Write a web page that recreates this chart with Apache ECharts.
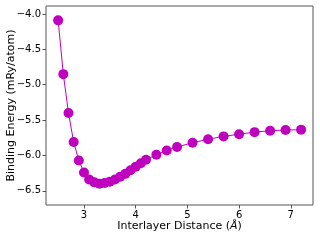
<!DOCTYPE html>
<html><head><meta charset="utf-8">
<script src="https://cdn.jsdelivr.net/npm/echarts@6/dist/echarts.min.js"></script>
<style>html,body{margin:0;padding:0;background:#fff}#c{width:320px;height:240px}</style>
</head><body><div id="c"></div>
<script>
const distances = [2.5,2.6,2.7,2.8,2.9,3.0,3.1,3.2,3.3,3.4,3.5,3.6,3.7,3.8,3.9,4.0,4.1,4.2,4.4,4.6,4.8,5.1,5.4,5.7,6.0,6.3,6.6,6.9,7.2];
const energies = [-4.09,-4.85,-5.40,-5.81,-6.07,-6.24,-6.34,-6.38,-6.40,-6.39,-6.37,-6.34,-6.30,-6.26,-6.21,-6.16,-6.11,-6.06,-5.99,-5.93,-5.88,-5.82,-5.77,-5.73,-5.70,-5.67,-5.65,-5.64,-5.635];
const xTicks = [3,4,5,6,7];
const yTicks = [-6.5,-6.0,-5.5,-5.0,-4.5,-4.0];

const chart = echarts.init(document.getElementById('c'), null, {renderer:'canvas'});
const fam = 'DejaVu Sans';
const frame = '#555';
chart.setOption({
  animation:false,
  grid:{left:46,top:6,right:7,bottom:35,outerBoundsMode:'none',containLabel:false,show:true,borderColor:frame,borderWidth:1,backgroundColor:'transparent'},
  xAxis:{type:'value',min:2.265,max:7.43,
    axisLine:{show:false},splitLine:{show:false},
    axisTick:{show:true,inside:false,length:3.5,customValues:xTicks,lineStyle:{color:frame,width:1}},
    axisLabel:{customValues:xTicks,fontFamily:fam,fontSize:10,color:'#000',margin:5,formatter:v=>String(v)},
    name:'{a|Interlayer Distance (}{b|Å}{a|)}',nameLocation:'middle',nameGap:16,nameMoveOverlap:false,
    nameTextStyle:{rich:{a:{fontFamily:fam,fontSize:11,color:'#000'},b:{fontFamily:fam,fontSize:11,fontStyle:'italic',color:'#000'}}}
  },
  yAxis:{type:'value',min:-6.70,max:-3.887,
    axisLine:{show:false},splitLine:{show:false},
    axisTick:{show:true,inside:false,length:3.5,customValues:yTicks,lineStyle:{color:frame,width:1}},
    axisLabel:{customValues:yTicks,fontFamily:fam,fontSize:10,color:'#000',margin:5,formatter:v=>v.toFixed(1).replace('-','\u2212')},
    name:'Binding Energy (mRy/atom)',nameLocation:'middle',nameGap:29,nameRotate:90,nameMoveOverlap:false,
    nameTextStyle:{fontFamily:fam,fontSize:11,color:'#000'}
  },
  series:[{type:'line',data:distances.map((d,i)=>[d,energies[i]]),
    symbol:'circle',symbolSize:10,
    lineStyle:{color:'#bf00bf',width:1},
    itemStyle:{color:'#bf00bf'}
  }]
});
</script></body></html>
